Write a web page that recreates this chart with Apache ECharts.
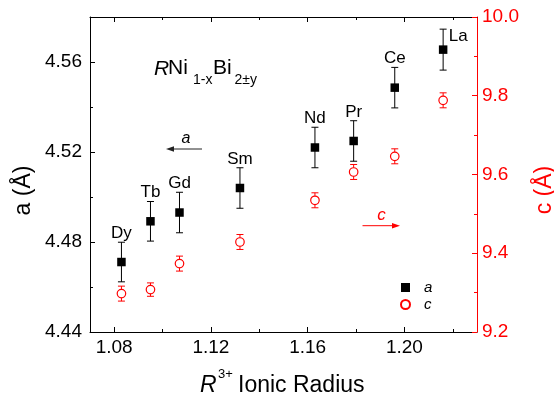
<!DOCTYPE html>
<html>
<head>
<meta charset="utf-8">
<script src="https://cdn.jsdelivr.net/npm/echarts@6/dist/echarts.min.js"></script>
<style>
html,body{margin:0;padding:0;background:#fff;}
#chart{width:554px;height:400px;}
</style>
</head>
<body>
<div id="chart"></div>
<script>
// ---- data ----
const elements = ['Dy', 'Tb', 'Gd', 'Sm', 'Nd', 'Pr', 'Ce', 'La'];
const ionicRadius = [1.083, 1.095, 1.107, 1.132, 1.163, 1.179, 1.196, 1.216];
const aValues = [4.4711, 4.4892, 4.4931, 4.5040, 4.5220, 4.5249, 4.5486, 4.5655];
const aErrors = [0.0088, 0.0088, 0.0090, 0.0090, 0.0090, 0.0090, 0.0090, 0.0091];
const cValues = [9.2975, 9.3077, 9.3737, 9.4286, 9.5345, 9.6064, 9.6462, 9.7884];
const cErrors = [0.019, 0.017, 0.019, 0.019, 0.019, 0.019, 0.019, 0.019];
const xTickValues = [1.08, 1.12, 1.16, 1.20];
const aTickValues = [4.44, 4.48, 4.52, 4.56];

const FONT = '"Liberation Sans", Arial, Helvetica, sans-serif';
const RED = '#ff0000';
const BLACK = '#000000';

const chart = echarts.init(document.getElementById('chart'), null, {renderer: 'canvas'});

function errData(vals, errs) {
  return ionicRadius.map((x, i) => [x, vals[i] - errs[i], vals[i] + errs[i]]);
}
function errRender(color) {
  return function (params, api) {
    const x = api.value(0), lo = api.value(1), hi = api.value(2);
    const p1 = api.coord([x, hi]);
    const p2 = api.coord([x, lo]);
    const w = 3.5;
    const st = {stroke: color, lineWidth: 1};
    return {
      type: 'group',
      children: [
        {type: 'line', shape: {x1: p1[0], y1: p1[1], x2: p2[0], y2: p2[1]}, style: st},
        {type: 'line', shape: {x1: p1[0] - w, y1: p1[1], x2: p1[0] + w, y2: p1[1]}, style: st},
        {type: 'line', shape: {x1: p2[0] - w, y1: p2[1], x2: p2[0] + w, y2: p2[1]}, style: st}
      ]
    };
  };
}

const aData = ionicRadius.map((x, i) => {
  const item = {value: [x, aValues[i]], name: elements[i]};
  if (elements[i] === 'La') item.label = {offset: [15, -13]};
  return item;
});
const cData = ionicRadius.map((x, i) => [x, cValues[i]]);

function xAxisCfg(pos, labels) {
  return {
    type: 'value', position: pos, min: 1.07, max: 1.23,
    minInterval: 0.04, maxInterval: 0.04, splitNumber: 4,
    axisLine: {show: true, onZero: false, lineStyle: {color: BLACK, width: 1}},
    axisTick: {show: true, inside: true, length: 5, customValues: xTickValues, lineStyle: {color: BLACK, width: 1}},
    minorTick: {show: true, splitNumber: 2, length: 3, lineStyle: {color: BLACK, width: 1}},
    axisLabel: {show: labels, customValues: xTickValues, formatter: v => v.toFixed(2),
      fontSize: 19, fontFamily: FONT, color: BLACK, margin: 6},
    splitLine: {show: false}
  };
}

const option = {
  animation: false,
  backgroundColor: '#fff',
  grid: {left: 90, right: 77, top: 17, bottom: 68, show: false},
  xAxis: [xAxisCfg('bottom', true), xAxisCfg('top', false)],
  yAxis: [
    {
      type: 'value', position: 'left', min: 4.44, max: 4.58,
      minInterval: 0.04, maxInterval: 0.04, splitNumber: 4,
      axisLine: {show: true, onZero: false, lineStyle: {color: BLACK, width: 1}},
      axisTick: {show: true, inside: true, length: 5, customValues: aTickValues, lineStyle: {color: BLACK}},
      minorTick: {show: true, splitNumber: 2, length: 3, lineStyle: {color: BLACK}},
      axisLabel: {customValues: aTickValues, formatter: v => v.toFixed(2), fontSize: 19, fontFamily: FONT, color: BLACK, margin: 8},
      splitLine: {show: false}
    },
    {
      type: 'value', position: 'right', min: 9.2, max: 10.0, interval: 0.2,
      axisLine: {show: true, onZero: false, lineStyle: {color: RED, width: 1}},
      axisTick: {show: true, inside: true, length: 5, lineStyle: {color: RED}},
      minorTick: {show: true, splitNumber: 2, length: 3, lineStyle: {color: RED}},
      axisLabel: {formatter: v => v.toFixed(1), fontSize: 19, fontFamily: FONT, color: RED, margin: 5},
      splitLine: {show: false}
    }
  ],
  legend: {
    orient: 'vertical', left: 395, top: 275,
    itemWidth: 9, itemHeight: 9, itemGap: 2,
    data: ['a', 'c'],
    textStyle: {fontFamily: FONT, fontStyle: 'italic', fontSize: 15, lineHeight: 15, color: BLACK, padding: [0, 0, 0, 9]}
  },
  series: [
    {
      name: 'a err', type: 'custom', xAxisIndex: 0, yAxisIndex: 0,
      renderItem: errRender('#000'), data: errData(aValues, aErrors),
      encode: {x: 0, y: [1, 2]}, z: 1, silent: true
    },
    {
      name: 'c err', type: 'custom', xAxisIndex: 0, yAxisIndex: 1,
      renderItem: errRender(RED), data: errData(cValues, cErrors),
      encode: {x: 0, y: [1, 2]}, z: 1, silent: true
    },
    {
      name: 'a', type: 'scatter', xAxisIndex: 0, yAxisIndex: 0,
      symbol: 'rect', symbolSize: 8.5,
      itemStyle: {color: BLACK, opacity: 1},
      label: {
        show: true, position: 'inside', offset: [0, -29],
        formatter: p => p.name, fontSize: 17, fontFamily: FONT, color: BLACK, opacity: 1
      },
      data: aData, z: 3
    },
    {
      name: 'c', type: 'scatter', xAxisIndex: 0, yAxisIndex: 1,
      symbol: 'circle', symbolSize: 8.5,
      itemStyle: {color: '#fff', borderColor: RED, borderWidth: 1.2, opacity: 1},
      data: cData, z: 3
    }
  ],
  graphic: [
    // formula annotation
    {type: 'text', x: 154, y: 68.7, style: {text: 'R', fontSize: 21, fontStyle: 'italic', fontFamily: FONT, fill: BLACK, align: 'left', verticalAlign: 'middle'}},
    {type: 'text', x: 168, y: 68.7, style: {text: 'Ni', fontSize: 21, fontFamily: FONT, fill: BLACK, align: 'left', verticalAlign: 'middle'}},
    {type: 'text', x: 193, y: 80, style: {text: '1-x', fontSize: 14, fontFamily: FONT, fill: BLACK, align: 'left', verticalAlign: 'middle'}},
    {type: 'text', x: 213, y: 68.7, style: {text: 'Bi', fontSize: 21, fontFamily: FONT, fill: BLACK, align: 'left', verticalAlign: 'middle'}},
    {type: 'text', x: 234.5, y: 80, style: {text: '2±y', fontSize: 14, fontFamily: FONT, fill: BLACK, align: 'left', verticalAlign: 'middle'}},
    // a arrow
    {type: 'text', x: 186, y: 138.5, style: {text: 'a', fontSize: 16, fontStyle: 'italic', fontFamily: FONT, fill: BLACK, align: 'center', verticalAlign: 'middle'}},
    {type: 'line', shape: {x1: 173, y1: 149, x2: 202, y2: 149}, style: {stroke: '#222', lineWidth: 1}},
    {type: 'polygon', shape: {points: [[166, 149], [174, 146.3], [174, 151.7]]}, style: {fill: '#222'}},
    // c arrow
    {type: 'text', x: 381.5, y: 215, style: {text: 'c', fontSize: 17, fontStyle: 'italic', fontFamily: FONT, fill: RED, align: 'center', verticalAlign: 'middle'}},
    {type: 'line', shape: {x1: 362.5, y1: 225.7, x2: 393, y2: 225.7}, style: {stroke: RED, lineWidth: 1}},
    {type: 'polygon', shape: {points: [[400, 225.7], [392, 223], [392, 228.4]]}, style: {fill: RED}},
    // axis titles
    {type: 'text', x: 200, y: 385.3, style: {text: 'R', fontSize: 23, fontStyle: 'italic', fontFamily: FONT, fill: BLACK, align: 'left', verticalAlign: 'middle'}},
    {type: 'text', x: 218, y: 374, style: {text: '3+', fontSize: 13, fontFamily: FONT, fill: BLACK, align: 'left', verticalAlign: 'middle'}},
    {type: 'text', x: 238, y: 385.3, style: {text: 'Ionic Radius', fontSize: 23, fontFamily: FONT, fill: BLACK, align: 'left', verticalAlign: 'middle'}},
    {type: 'text', x: 23.5, y: 190.5, rotation: Math.PI / 2, style: {text: 'a (Å)', fontSize: 23, fontFamily: FONT, fill: BLACK, align: 'center', verticalAlign: 'middle'}},
    {type: 'text', x: 545, y: 190, rotation: Math.PI / 2, style: {text: 'c (Å)', fontSize: 23, fontFamily: FONT, fill: RED, align: 'center', verticalAlign: 'middle'}}
  ]
};
chart.setOption(option);
</script>
</body>
</html>
